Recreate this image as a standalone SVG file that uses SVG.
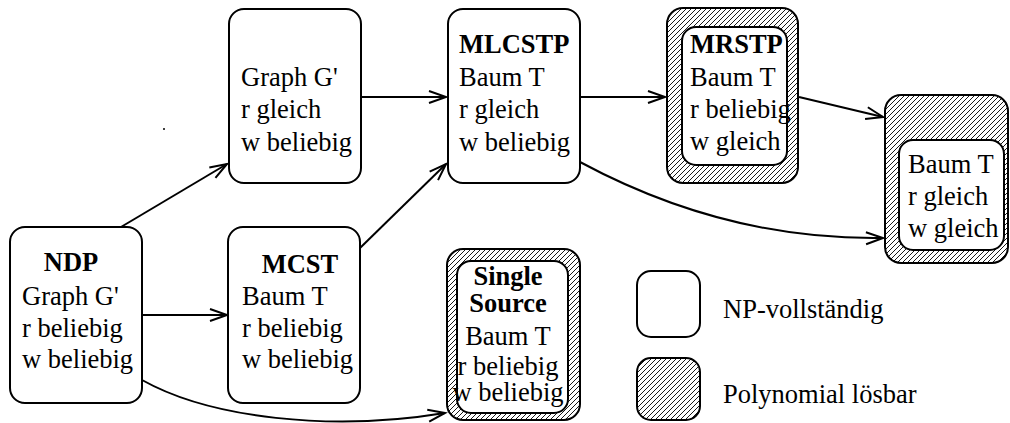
<svg xmlns="http://www.w3.org/2000/svg" width="1010" height="423" viewBox="0 0 1010 423">
<defs>
<pattern id="hatch" patternUnits="userSpaceOnUse" width="5" height="5">
<path d="M-1,1 L1,-1 M0,5 L5,0 M4,6 L6,4" stroke="#000" stroke-width="0.9"/>
</pattern>
<marker id="arr" markerUnits="userSpaceOnUse" markerWidth="24" markerHeight="16" viewBox="-20 -8 24 16" refX="0" refY="0" orient="auto">
<path d="M-17,-6 L0,0 L-17,6" fill="none" stroke="#000" stroke-width="2"/>
</marker>
<style>
.box{fill:#fff;stroke:#000;stroke-width:2}
.hb{fill:url(#hatch);stroke:#000;stroke-width:2}
.c{fill:none;stroke:#000;stroke-width:2;marker-end:url(#arr)}
text{font-family:'Liberation Serif','Times New Roman',serif;font-size:26.5px;fill:#000}
.b{font-weight:bold}
.m{text-anchor:middle}
</style>
</defs>
<rect width="1010" height="423" fill="#fff"/>
<g id="connectors">
<path class="c" d="M121,227 L227,164"/>
<path class="c" d="M142,315 L227,315"/>
<path class="c" d="M142,380 C210,418 330,432 445,413"/>
<path class="c" d="M361,97 L446,97"/>
<path class="c" d="M360,248 L446,164"/>
<path class="c" d="M580,97 L665,97"/>
<path class="c" d="M799,97 L883,117"/>
<path class="c" d="M580,162 C660,205 760,240 883,238"/>
</g>
<g id="ndp">
<rect class="box" x="10" y="227" width="132" height="176" rx="15"/>
<text class="b m" x="71" y="271">NDP</text>
<text x="22" y="305">Graph G'</text>
<text x="22" y="337">r beliebig</text>
<text x="22" y="368">w beliebig</text>
</g>
<g id="graphg">
<rect class="box" x="229" y="9" width="132" height="174" rx="15"/>
<text x="241" y="86">Graph G'</text>
<text x="241" y="118">r gleich</text>
<text x="241" y="151">w beliebig</text>
</g>
<g id="mcst">
<rect class="box" x="228" y="227" width="132" height="176" rx="15"/>
<text class="b m" x="300" y="273">MCST</text>
<text x="242" y="305">Baum T</text>
<text x="242" y="337">r beliebig</text>
<text x="242" y="368">w beliebig</text>
</g>
<g id="mlcstp">
<rect class="box" x="448" y="9" width="132" height="174" rx="15"/>
<text class="b" x="459" y="53">MLCSTP</text>
<text x="459" y="86">Baum T</text>
<text x="459" y="118">r gleich</text>
<text x="459" y="151">w beliebig</text>
</g>
<g id="mrstp">
<rect class="hb" x="667" y="8" width="131" height="175" rx="16"/>
<rect class="box" x="682" y="27" width="105" height="138" rx="14"/>
<text class="b" x="690" y="53">MRSTP</text>
<text x="690" y="86">Baum T</text>
<text x="690" y="118">r beliebig</text>
<text x="690" y="150">w gleich</text>
</g>
<g id="rightbox">
<rect class="hb" x="885" y="95" width="123" height="168" rx="16"/>
<rect class="box" x="899" y="140" width="105" height="110" rx="14"/>
<text x="908" y="173">Baum T</text>
<text x="908" y="205">r gleich</text>
<text x="908" y="237">w gleich</text>
</g>
<g id="singlesource">
<rect class="hb" x="447" y="249" width="133" height="171" rx="16"/>
<rect class="box" x="457" y="261" width="111" height="152" rx="14"/>
<text class="b m" x="508" y="285">Single</text>
<text class="b m" x="508" y="312">Source</text>
<text class="m" x="508" y="345">Baum T</text>
<text class="m" x="508" y="375">r beliebig</text>
<text class="m" x="508" y="401">w beliebig</text>
</g>
<g id="legend">
<rect class="box" x="637" y="271" width="63" height="66" rx="14"/>
<text x="723" y="318">NP-vollständig</text>
<rect class="hb" x="637" y="358" width="63" height="62" rx="14"/>
<text x="723" y="403">Polynomial lösbar</text>
</g>
<circle cx="164" cy="129" r="1" fill="#000"/>
</svg>
